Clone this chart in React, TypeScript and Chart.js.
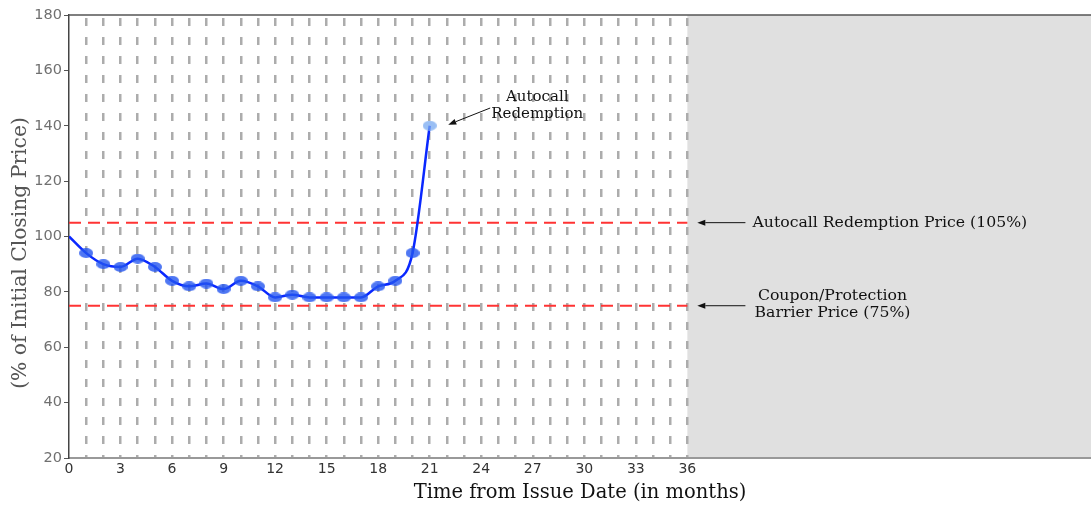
import React, { useEffect, useRef } from "react";
import { Chart, registerables } from "chart.js";

Chart.register(...registerables);

// ---- data ----
const months = [0, 1, 2, 3, 4, 5, 6, 7, 8, 9, 10, 11, 12, 13, 14, 15, 16, 17, 18, 19, 20, 21];
const prices = [100, 94, 90, 89, 92, 89, 84, 82, 83, 81, 84, 82, 78, 79, 78, 78, 78, 78, 82, 84, 94, 140];
const yTickValues = [20, 40, 60, 80, 100, 120, 140, 160, 180];
const xTickLabels = [0, 3, 6, 9, 12, 15, 18, 21, 24, 27, 30, 33, 36];
const gridMonths = Array.from({ length: 37 }, (_, i) => i);
const autocallLevel = 105;
const barrierLevel = 75;
const termMonths = 36;
const xMax = 59.5;
const yMin = 20;
const yMax = 180;

const yTitle = "(% of Initial Closing Price)";
const xTitle = "Time from Issue Date (in months)";
const autocallNote = ["Autocall", "Redemption"];
const autocallPriceNote = "Autocall Redemption Price (105%)";
const barrierNote = ["Coupon/Protection", "Barrier Price (75%)"];

const SERIF = "'DejaVu Serif', serif";
const SANS = "'DejaVu Sans', sans-serif";

function ellipse(w: number, h: number, color: string) {
  const c = document.createElement("canvas");
  c.width = w;
  c.height = h;
  const ctx = c.getContext("2d")!;
  ctx.fillStyle = color;
  ctx.beginPath();
  ctx.ellipse(w / 2, h / 2, w / 2, h / 2, 0, 0, Math.PI * 2);
  ctx.fill();
  return c;
}

function arrow(ctx: CanvasRenderingContext2D, x1: number, y1: number, x2: number, y2: number) {
  ctx.save();
  ctx.strokeStyle = "#111";
  ctx.fillStyle = "#111";
  ctx.lineWidth = 1;
  const a = Math.atan2(y2 - y1, x2 - x1);
  const hl = 8, hw = 3;
  const bx = x2 - hl * Math.cos(a), by = y2 - hl * Math.sin(a);
  ctx.beginPath();
  ctx.moveTo(x1, y1);
  ctx.lineTo(bx, by);
  ctx.stroke();
  ctx.beginPath();
  ctx.moveTo(x2, y2);
  ctx.lineTo(bx + hw * Math.sin(a), by - hw * Math.cos(a));
  ctx.lineTo(bx - hw * Math.sin(a), by + hw * Math.cos(a));
  ctx.closePath();
  ctx.fill();
  ctx.restore();
}

const backdropPlugin = {
  id: "backdrop",
  beforeDraw(chart: any) {
    const { ctx, chartArea, scales } = chart;
    const x0 = scales.x.getPixelForValue(termMonths);
    ctx.save();
    ctx.fillStyle = "#e0e0e0";
    ctx.fillRect(x0, chartArea.top, chartArea.right - x0, chartArea.bottom - chartArea.top);
    ctx.restore();
  },
  afterDraw(chart: any) {
    const { ctx, chartArea, scales, height } = chart;
    const x = scales.x, y = scales.y;
    ctx.save();
    // top border
    ctx.strokeStyle = "#555";
    ctx.lineWidth = 1.5;
    ctx.beginPath();
    ctx.moveTo(chartArea.left, chartArea.top);
    ctx.lineTo(chartArea.right, chartArea.top);
    ctx.stroke();

    // y title
    ctx.save();
    ctx.translate(21, height / 2);
    ctx.rotate(-Math.PI / 2);
    ctx.font = `20.3px ${SERIF}`;
    ctx.fillStyle = "#555";
    ctx.textAlign = "center";
    ctx.textBaseline = "middle";
    ctx.fillText(yTitle, 0, 0);
    ctx.restore();

    // annotations
    ctx.fillStyle = "#111";
    ctx.textBaseline = "middle";
    ctx.font = `15px ${SERIF}`;
    ctx.textAlign = "center";
    ctx.fillText(autocallNote[0], x.getPixelForValue(27.26), y.getPixelForValue(150.2));
    ctx.fillText(autocallNote[1], x.getPixelForValue(27.26), y.getPixelForValue(144.2));
    arrow(ctx, x.getPixelForValue(24.52), y.getPixelForValue(146.4), x.getPixelForValue(22.08), y.getPixelForValue(140.4));

    ctx.font = `15.7px ${SERIF}`;
    ctx.textAlign = "left";
    ctx.fillText(autocallPriceNote, x.getPixelForValue(39.79), y.getPixelForValue(autocallLevel));
    arrow(ctx, x.getPixelForValue(39.38), y.getPixelForValue(autocallLevel), x.getPixelForValue(36.58), y.getPixelForValue(autocallLevel));

    ctx.textAlign = "center";
    ctx.fillText(barrierNote[0], x.getPixelForValue(44.45), y.getPixelForValue(78.5));
    ctx.fillText(barrierNote[1], x.getPixelForValue(44.45), y.getPixelForValue(72.4));
    arrow(ctx, x.getPixelForValue(39.38), y.getPixelForValue(barrierLevel), x.getPixelForValue(36.58), y.getPixelForValue(barrierLevel));
    ctx.restore();
  },
};

export default function App() {
  const ref = useRef<HTMLCanvasElement>(null);
  useEffect(() => {
    const blueDot = ellipse(14, 10, "rgba(35,85,240,0.8)");
    const lightDot = ellipse(14, 10, "rgba(120,170,240,0.75)");
    const chart = new Chart(ref.current!, {
      type: "line",
      data: {
        datasets: [
          {
            data: months.map((m, i) => ({ x: m, y: prices[i] })),
            borderColor: "#0a28ff",
            borderWidth: 2.5,
            cubicInterpolationMode: "monotone",
            pointStyle: (c: any) => (c.dataIndex === 0 ? false : c.dataIndex === months.length - 1 ? lightDot : blueDot),
            pointRadius: 6,
            order: 0,
          } as any,
          {
            data: [{ x: 0, y: autocallLevel }, { x: termMonths, y: autocallLevel }],
            borderColor: "#ff3333",
            borderWidth: 2,
            borderDash: [12, 7],
            pointRadius: 0,
            order: 1,
          },
          {
            data: [{ x: 0, y: barrierLevel }, { x: termMonths, y: barrierLevel }],
            borderColor: "#ff3333",
            borderWidth: 2,
            borderDash: [12, 7],
            pointRadius: 0,
            order: 1,
          },
        ],
      },
      options: {
        animation: false,
        responsive: false,
        maintainAspectRatio: false,
        layout: { autoPadding: false, padding: { top: 15, right: 0, left: 0, bottom: 0 } },
        plugins: { legend: { display: false }, tooltip: { enabled: false } },
        scales: {
          x: {
            type: "linear",
            min: 0,
            max: xMax,
            afterFit: (s: any) => { s.height = 48; s.paddingLeft = 0; s.paddingRight = 0; },
            afterBuildTicks: (s: any) => { s.ticks = gridMonths.map((v) => ({ value: v })); },
            ticks: {
              autoSkip: false,
              maxRotation: 0,
              padding: 3,
              color: "#333",
              font: { family: SANS, size: 14 },
              callback: (v: any) => (xTickLabels.includes(Number(v)) ? String(v) : ""),
            },
            grid: {
              drawTicks: false,
              color: (c: any) => (c.tick && c.tick.value === 0 ? "rgba(0,0,0,0)" : "#acacac"),
              lineWidth: 2.5,
            } as any,
            border: { display: true, color: "#999", width: 2, dash: [8, 11], dashOffset: -3 } as any,
            title: {
              display: true,
              text: xTitle,
              color: "#111",
              font: { family: SERIF, size: 19.5 },
              padding: { top: 0, bottom: 1 },
            },
          },
          y: {
            type: "linear",
            min: yMin,
            max: yMax,
            afterFit: (s: any) => { s.width = 69; s.paddingTop = 0; s.paddingBottom = 0; },
            afterBuildTicks: (s: any) => { s.ticks = yTickValues.map((v) => ({ value: v })); },
            ticks: {
              padding: 2,
              color: "#707070",
              font: { family: SANS, size: 14.5 },
            },
            grid: { drawOnChartArea: false, drawTicks: true, tickLength: 5, color: "#555" },
            border: { display: true, color: "#444", width: 1.5 },
          },
        },
      },
      plugins: [backdropPlugin],
    });
    return () => chart.destroy();
  }, []);
  return (
    <div style={{ position: "absolute", left: 0, top: 0, width: 1091, height: 506 }}>
      <canvas ref={ref} width={1091} height={506} style={{ display: "block" }} />
    </div>
  );
}
